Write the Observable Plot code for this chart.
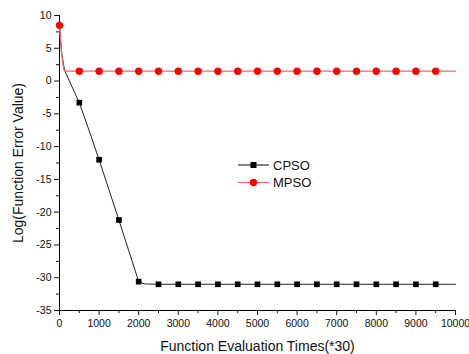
<!DOCTYPE html>
<html>
<head>
<meta charset="utf-8">
<script src="https://cdn.jsdelivr.net/npm/d3@7"></script>
<script src="https://cdn.jsdelivr.net/npm/@observablehq/plot@0.6"></script>
<style>
  html, body { margin: 0; padding: 0; background: #fff; }
  #chart svg { display: block; }
</style>
</head>
<body>
<div id="chart"></div>
<script>
// Series names
const seriesNames = ["CPSO", "MPSO"];

// CPSO line (x = evaluations, y = log error)
const cpsoLineX = [0, 60, 130, 500, 750, 1000, 1250, 1500, 1750, 2000, 2150, 2500, 10000];
const cpsoLineY = [8.3, 4.0, 1.6, -3.3, -7.6, -12.0, -16.6, -21.2, -25.9, -30.6, -30.95, -31.0, -31.0];

// CPSO markers
const cpsoMarkX = [500, 1000, 1500, 2000, 2500, 3000, 3500, 4000, 4500, 5000, 5500, 6000, 6500, 7000, 7500, 8000, 8500, 9000, 9500];
const cpsoMarkY = [-3.3, -12.0, -21.2, -30.6, -31.0, -31.0, -31.0, -31.0, -31.0, -31.0, -31.0, -31.0, -31.0, -31.0, -31.0, -31.0, -31.0, -31.0, -31.0];

// MPSO line
const mpsoLineX = [0, 50, 110, 160, 10000];
const mpsoLineY = [8.5, 4.2, 1.7, 1.5, 1.5];

// MPSO markers
const mpsoMarkX = [0, 500, 1000, 1500, 2000, 2500, 3000, 3500, 4000, 4500, 5000, 5500, 6000, 6500, 7000, 7500, 8000, 8500, 9000, 9500];
const mpsoMarkY = [8.5, 1.5, 1.5, 1.5, 1.5, 1.5, 1.5, 1.5, 1.5, 1.5, 1.5, 1.5, 1.5, 1.5, 1.5, 1.5, 1.5, 1.5, 1.5, 1.5];

// Ticks
const xTicks = [0, 1000, 2000, 3000, 4000, 5000, 6000, 7000, 8000, 9000, 10000];
const xMinorTicks = [500, 1500, 2500, 3500, 4500, 5500, 6500, 7500, 8500, 9500];
const yTicks = [-35, -30, -25, -20, -15, -10, -5, 0, 5, 10];
const yMinorTicks = [-32.5, -27.5, -22.5, -17.5, -12.5, -7.5, -2.5, 2.5, 7.5];

const xLabel = "Function Evaluation Times(*30)";
const yLabel = "Log(Function Error Value)";

const toRows = (xs, ys) => xs.map((x, i) => ({x, y: ys[i]}));
const cpsoLine = toRows(cpsoLineX, cpsoLineY);
const cpsoMarks = toRows(cpsoMarkX, cpsoMarkY);
const mpsoLine = toRows(mpsoLineX, mpsoLineY);
const mpsoMarks = toRows(mpsoMarkX, mpsoMarkY);

const black = "#000000";
const red = "#ff0000";
const redLine = "#e86a6a";

const plot = Plot.plot({
  width: 469,
  height: 354,
  marginLeft: 59,
  marginRight: 14,
  marginTop: 15,
  marginBottom: 44,
  style: {fontFamily: "'Liberation Sans', Arial, sans-serif", color: "#111", background: "#fff"},
  x: {domain: [0, 10000]},
  y: {domain: [-35, 10]},
  marks: [
    Plot.axisX(xTicks, {tickSize: 5, tickPadding: 4, fontSize: 10.5, label: null, tickFormat: d => String(d)}),
    Plot.axisX(xMinorTicks, {tickSize: 3, label: null, tickFormat: () => ""}),
    Plot.axisY(yTicks, {tickSize: 5, tickPadding: 3, fontSize: 10.5, label: null, tickFormat: d => String(d)}),
    Plot.axisY(yMinorTicks, {tickSize: 3, label: null, tickFormat: () => ""}),
    Plot.ruleX([0], {stroke: black, strokeWidth: 1}),
    Plot.ruleY([-35], {stroke: black, strokeWidth: 1}),
    Plot.line(cpsoLine, {x: "x", y: "y", stroke: "#222", strokeWidth: 1}),
    Plot.dot(cpsoMarks, {x: "x", y: "y", symbol: "square", r: 3.2, fill: black, stroke: "none"}),
    Plot.line(mpsoLine, {x: "x", y: "y", stroke: redLine, strokeWidth: 1.3}),
    Plot.dot(mpsoMarks, {x: "x", y: "y", symbol: "circle", r: 3.7, fill: red, stroke: "none"}),
    Plot.text([xLabel], {frameAnchor: "bottom", dy: 36, fontSize: 14, fill: "#111", lineAnchor: "middle", textAnchor: "middle"}),
    Plot.text([yLabel], {frameAnchor: "left", dx: -41, rotate: -90, fontSize: 14, fill: "#111", lineAnchor: "middle", textAnchor: "middle"})
  ]
});

// Legend drawn inside the plot SVG
const svg = d3.select(plot);
const legend = svg.append("g")
  .attr("font-family", "'Liberation Sans', Arial, sans-serif")
  .attr("font-size", 13)
  .attr("text-anchor", "start");
const legendItems = [
  {name: seriesNames[0], line: "#222", fill: black, symbol: d3.symbolSquare, size: 36},
  {name: seriesNames[1], line: redLine, fill: red, symbol: d3.symbolCircle, size: 43}
];
legendItems.forEach((d, i) => {
  const gy = 165 + i * 17.5;
  const g = legend.append("g").attr("transform", `translate(238,${gy})`);
  g.append("line").attr("x1", 0).attr("x2", 31).attr("y1", 0).attr("y2", 0)
    .attr("stroke", d.line).attr("stroke-width", 1.1);
  g.append("path").attr("d", d3.symbol(d.symbol, d.size)()).attr("transform", "translate(15.5,0)")
    .attr("fill", d.fill);
  g.append("text").attr("x", 35).attr("y", 0).attr("dy", "0.35em").attr("text-anchor", "start")
    .attr("fill", "#111").text(d.name);
});

document.getElementById("chart").appendChild(plot);
</script>
</body>
</html>
